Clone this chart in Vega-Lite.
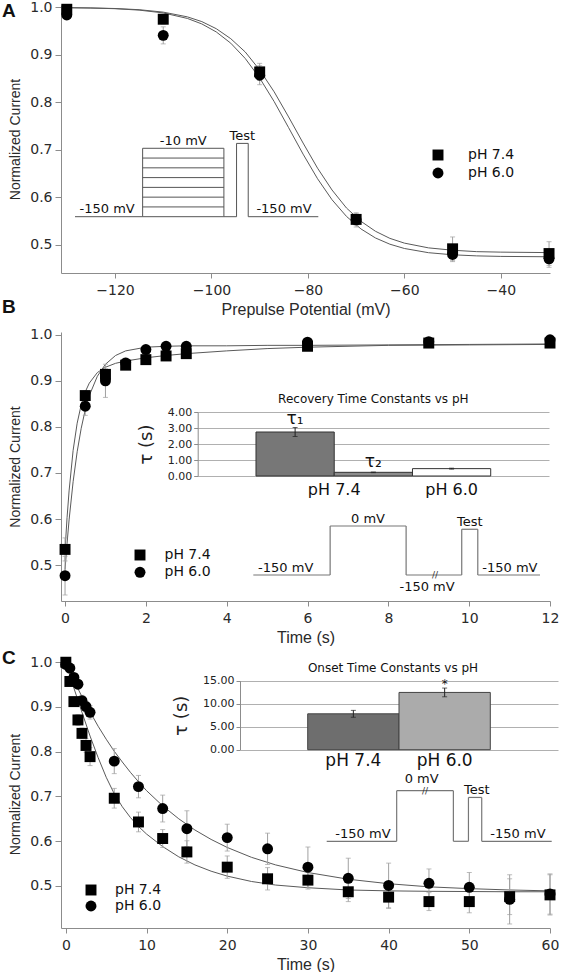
{
  "$schema": "https://vega.github.io/schema/vega-lite/v6.json",
  "background": "white",
  "padding": {"left": 2, "top": 0, "right": 0, "bottom": 0},
  "bounds": "flush",
  "spacing": 59,
  "config": {
    "view": {"stroke": null},
    "font": "DejaVu Sans",
    "axis": {"domainColor": "#8c8c8c", "tickColor": "#8c8c8c", "labelFont": "DejaVu Sans", "labelFontSize": 14, "labelColor": "#2a2a2a", "titleFont": "Liberation Sans", "titleFontWeight": "normal", "titleColor": "#2a2a2a", "grid": false, "labelFlush": false, "labelOverlap": false},
    "axisX": {"tickSize": 5, "labelPadding": 5, "titleFontSize": 16, "titlePadding": 4},
    "axisY": {"tickSize": 6, "labelPadding": 3, "titleFontSize": 14, "titlePadding": 7}
  },
  "resolve": {"scale": {"shape": "independent", "color": "independent"}, "legend": {"shape": "independent", "color": "independent"}},
  "datasets": {
    "a_pts": [
      {"V": -130, "I": 0.984, "err": 0.008, "pH": "pH 6.0"},
      {"V": -110, "I": 0.941, "err": 0.018, "pH": "pH 6.0"},
      {"V": -90, "I": 0.857, "err": 0.02, "pH": "pH 6.0"},
      {"V": -70, "I": 0.552, "err": 0.015, "pH": "pH 6.0"},
      {"V": -50, "I": 0.479, "err": 0.015, "pH": "pH 6.0"},
      {"V": -30, "I": 0.47, "err": 0.018, "pH": "pH 6.0"},
      {"V": -130, "I": 0.996, "err": 0.008, "pH": "pH 7.4"},
      {"V": -110, "I": 0.975, "err": 0.01, "pH": "pH 7.4"},
      {"V": -90, "I": 0.864, "err": 0.018, "pH": "pH 7.4"},
      {"V": -70, "I": 0.553, "err": 0.012, "pH": "pH 7.4"},
      {"V": -50, "I": 0.491, "err": 0.025, "pH": "pH 7.4"},
      {"V": -30, "I": 0.481, "err": 0.025, "pH": "pH 7.4"}
    ],
    "a_fit": [
      {"V": -131, "I": 0.9995, "pH": "pH 7.4"}, {"V": -125, "I": 0.9988, "pH": "pH 7.4"}, {"V": -120, "I": 0.9976, "pH": "pH 7.4"},
      {"V": -115, "I": 0.9951, "pH": "pH 7.4"}, {"V": -110, "I": 0.990, "pH": "pH 7.4"}, {"V": -105, "I": 0.980, "pH": "pH 7.4"},
      {"V": -102, "I": 0.970, "pH": "pH 7.4"}, {"V": -99, "I": 0.955, "pH": "pH 7.4"}, {"V": -96, "I": 0.934, "pH": "pH 7.4"},
      {"V": -93, "I": 0.906, "pH": "pH 7.4"}, {"V": -90, "I": 0.868, "pH": "pH 7.4"}, {"V": -87, "I": 0.822, "pH": "pH 7.4"},
      {"V": -84, "I": 0.769, "pH": "pH 7.4"}, {"V": -81, "I": 0.714, "pH": "pH 7.4"}, {"V": -78, "I": 0.661, "pH": "pH 7.4"},
      {"V": -75, "I": 0.615, "pH": "pH 7.4"}, {"V": -72, "I": 0.577, "pH": "pH 7.4"}, {"V": -69, "I": 0.549, "pH": "pH 7.4"},
      {"V": -66, "I": 0.528, "pH": "pH 7.4"}, {"V": -63, "I": 0.513, "pH": "pH 7.4"}, {"V": -60, "I": 0.503, "pH": "pH 7.4"},
      {"V": -55, "I": 0.493, "pH": "pH 7.4"}, {"V": -50, "I": 0.488, "pH": "pH 7.4"}, {"V": -45, "I": 0.485, "pH": "pH 7.4"},
      {"V": -40, "I": 0.484, "pH": "pH 7.4"}, {"V": -30, "I": 0.483, "pH": "pH 7.4"},
      {"V": -131, "I": 0.9994, "pH": "pH 6.0"}, {"V": -125, "I": 0.9986, "pH": "pH 6.0"}, {"V": -120, "I": 0.9972, "pH": "pH 6.0"},
      {"V": -115, "I": 0.9942, "pH": "pH 6.0"}, {"V": -110, "I": 0.9883, "pH": "pH 6.0"}, {"V": -105, "I": 0.9767, "pH": "pH 6.0"},
      {"V": -102, "I": 0.9651, "pH": "pH 6.0"}, {"V": -99, "I": 0.9482, "pH": "pH 6.0"}, {"V": -96, "I": 0.9245, "pH": "pH 6.0"},
      {"V": -93, "I": 0.8923, "pH": "pH 6.0"}, {"V": -90, "I": 0.851, "pH": "pH 6.0"}, {"V": -87, "I": 0.8014, "pH": "pH 6.0"},
      {"V": -84, "I": 0.7464, "pH": "pH 6.0"}, {"V": -81, "I": 0.6906, "pH": "pH 6.0"}, {"V": -78, "I": 0.6387, "pH": "pH 6.0"},
      {"V": -75, "I": 0.5944, "pH": "pH 6.0"}, {"V": -72, "I": 0.5593, "pH": "pH 6.0"}, {"V": -69, "I": 0.5329, "pH": "pH 6.0"},
      {"V": -66, "I": 0.5139, "pH": "pH 6.0"}, {"V": -63, "I": 0.5007, "pH": "pH 6.0"}, {"V": -60, "I": 0.4917, "pH": "pH 6.0"},
      {"V": -55, "I": 0.4828, "pH": "pH 6.0"}, {"V": -50, "I": 0.4784, "pH": "pH 6.0"}, {"V": -45, "I": 0.4761, "pH": "pH 6.0"},
      {"V": -40, "I": 0.475, "pH": "pH 6.0"}, {"V": -30, "I": 0.4742, "pH": "pH 6.0"}
    ],
    "a_seg": [
      {"t0": 0, "t1": 27.8, "v0": -150, "v1": -150},
      {"t0": 27.8, "t1": 27.8, "v0": -150, "v1": -10},
      {"t0": 27.8, "t1": 61.2, "v0": -10, "v1": -10},
      {"t0": 27.8, "t1": 61.2, "v0": -30, "v1": -30},
      {"t0": 27.8, "t1": 61.2, "v0": -50, "v1": -50},
      {"t0": 27.8, "t1": 61.2, "v0": -70, "v1": -70},
      {"t0": 27.8, "t1": 61.2, "v0": -90, "v1": -90},
      {"t0": 27.8, "t1": 61.2, "v0": -110, "v1": -110},
      {"t0": 27.8, "t1": 61.2, "v0": -130, "v1": -130},
      {"t0": 27.8, "t1": 61.2, "v0": -150, "v1": -150},
      {"t0": 61.2, "t1": 61.2, "v0": -10, "v1": -150},
      {"t0": 61.2, "t1": 66.4, "v0": -150, "v1": -150},
      {"t0": 66.4, "t1": 66.4, "v0": -150, "v1": 0},
      {"t0": 66.4, "t1": 71.2, "v0": 0, "v1": 0},
      {"t0": 71.2, "t1": 71.2, "v0": 0, "v1": -150},
      {"t0": 71.2, "t1": 100, "v0": -150, "v1": -150}
    ],
    "a_txt": [
      {"t": 13.2, "v": -150, "label": "-150 mV"},
      {"t": 44.5, "v": -10, "label": "-10 mV"},
      {"t": 68.8, "v": 0, "label": "Test"},
      {"t": 85.9, "v": -150, "label": "-150 mV"}
    ],
    "b_pts": [
      {"t": 0, "I": 0.477, "err": 0.042, "pH": "pH 6.0"},
      {"t": 0.5, "I": 0.845, "err": 0.02, "pH": "pH 6.0"},
      {"t": 1, "I": 0.9, "err": 0.036, "pH": "pH 6.0"},
      {"t": 1.5, "I": 0.939, "err": 0.01, "pH": "pH 6.0"},
      {"t": 2, "I": 0.968, "err": 0.006, "pH": "pH 6.0"},
      {"t": 2.5, "I": 0.975, "err": 0.005, "pH": "pH 6.0"},
      {"t": 3, "I": 0.975, "err": 0.005, "pH": "pH 6.0"},
      {"t": 6, "I": 0.984, "err": 0.005, "pH": "pH 6.0"},
      {"t": 9, "I": 0.985, "err": 0.005, "pH": "pH 6.0"},
      {"t": 12, "I": 0.989, "err": 0.005, "pH": "pH 6.0"},
      {"t": 0, "I": 0.534, "err": 0.025, "pH": "pH 7.4"},
      {"t": 0.5, "I": 0.868, "err": 0.01, "pH": "pH 7.4"},
      {"t": 1, "I": 0.914, "err": 0.012, "pH": "pH 7.4"},
      {"t": 1.5, "I": 0.934, "err": 0.008, "pH": "pH 7.4"},
      {"t": 2, "I": 0.946, "err": 0.006, "pH": "pH 7.4"},
      {"t": 2.5, "I": 0.954, "err": 0.005, "pH": "pH 7.4"},
      {"t": 3, "I": 0.959, "err": 0.005, "pH": "pH 7.4"},
      {"t": 6, "I": 0.975, "err": 0.006, "pH": "pH 7.4"},
      {"t": 9, "I": 0.982, "err": 0.005, "pH": "pH 7.4"},
      {"t": 12, "I": 0.982, "err": 0.005, "pH": "pH 7.4"}
    ],
    "b_fit": [
      {"t": 0, "I": 0.532, "pH": "pH 7.4"}, {"t": 0.05, "I": 0.603, "pH": "pH 7.4"}, {"t": 0.1, "I": 0.661, "pH": "pH 7.4"},
      {"t": 0.2, "I": 0.749, "pH": "pH 7.4"}, {"t": 0.3, "I": 0.808, "pH": "pH 7.4"}, {"t": 0.4, "I": 0.848, "pH": "pH 7.4"},
      {"t": 0.5, "I": 0.876, "pH": "pH 7.4"}, {"t": 0.6, "I": 0.895, "pH": "pH 7.4"}, {"t": 0.8, "I": 0.918, "pH": "pH 7.4"},
      {"t": 1.0, "I": 0.9295, "pH": "pH 7.4"}, {"t": 1.25, "I": 0.938, "pH": "pH 7.4"}, {"t": 1.5, "I": 0.943, "pH": "pH 7.4"},
      {"t": 2, "I": 0.95, "pH": "pH 7.4"}, {"t": 2.5, "I": 0.955, "pH": "pH 7.4"}, {"t": 3, "I": 0.959, "pH": "pH 7.4"},
      {"t": 4, "I": 0.965, "pH": "pH 7.4"}, {"t": 5, "I": 0.97, "pH": "pH 7.4"}, {"t": 6, "I": 0.973, "pH": "pH 7.4"},
      {"t": 8, "I": 0.977, "pH": "pH 7.4"}, {"t": 10, "I": 0.978, "pH": "pH 7.4"}, {"t": 12, "I": 0.979, "pH": "pH 7.4"},
      {"t": 0, "I": 0.49, "pH": "pH 6.0"}, {"t": 0.05, "I": 0.547, "pH": "pH 6.0"}, {"t": 0.1, "I": 0.598, "pH": "pH 6.0"},
      {"t": 0.2, "I": 0.681, "pH": "pH 6.0"}, {"t": 0.3, "I": 0.746, "pH": "pH 6.0"}, {"t": 0.4, "I": 0.797, "pH": "pH 6.0"},
      {"t": 0.5, "I": 0.837, "pH": "pH 6.0"}, {"t": 0.6, "I": 0.868, "pH": "pH 6.0"}, {"t": 0.8, "I": 0.91, "pH": "pH 6.0"},
      {"t": 1.0, "I": 0.936, "pH": "pH 6.0"}, {"t": 1.25, "I": 0.955, "pH": "pH 6.0"}, {"t": 1.5, "I": 0.965, "pH": "pH 6.0"},
      {"t": 2, "I": 0.973, "pH": "pH 6.0"}, {"t": 2.5, "I": 0.975, "pH": "pH 6.0"}, {"t": 3, "I": 0.976, "pH": "pH 6.0"},
      {"t": 4, "I": 0.976, "pH": "pH 6.0"}, {"t": 5, "I": 0.977, "pH": "pH 6.0"}, {"t": 6, "I": 0.977, "pH": "pH 6.0"},
      {"t": 8, "I": 0.978, "pH": "pH 6.0"}, {"t": 10, "I": 0.979, "pH": "pH 6.0"}, {"t": 12, "I": 0.98, "pH": "pH 6.0"}
    ],
    "b_seg": [
      {"t0": 0, "t1": 26.8, "v0": -150, "v1": -150},
      {"t0": 26.8, "t1": 26.8, "v0": -150, "v1": 0},
      {"t0": 26.8, "t1": 53.3, "v0": 0, "v1": 0},
      {"t0": 53.3, "t1": 53.3, "v0": 0, "v1": -150},
      {"t0": 53.3, "t1": 72.7, "v0": -150, "v1": -150},
      {"t0": 72.7, "t1": 72.7, "v0": -150, "v1": -10},
      {"t0": 72.7, "t1": 78.3, "v0": -10, "v1": -10},
      {"t0": 78.3, "t1": 78.3, "v0": -10, "v1": -150},
      {"t0": 78.3, "t1": 100, "v0": -150, "v1": -150}
    ],
    "b_txt": [
      {"t": 11.3, "v": -150, "label": "-150 mV"},
      {"t": 40, "v": 0, "label": "0 mV"},
      {"t": 75.5, "v": -10, "label": "Test"},
      {"t": 89.5, "v": -150, "label": "-150 mV"}
    ],
    "b_bars": [
      {"bar": "t1_74", "tau": 2.75, "err": 0.28},
      {"bar": "t2_74", "tau": 0.23, "err": 0.02},
      {"bar": "t_60", "tau": 0.46, "err": 0.03}
    ],
    "c_pts": [
      {"t": 0, "I": 0.995, "err": 0.005, "pH": "pH 6.0"},
      {"t": 0.5, "I": 0.987, "err": 0.008, "pH": "pH 6.0"},
      {"t": 1, "I": 0.966, "err": 0.008, "pH": "pH 6.0"},
      {"t": 1.5, "I": 0.951, "err": 0.01, "pH": "pH 6.0"},
      {"t": 2, "I": 0.914, "err": 0.012, "pH": "pH 6.0"},
      {"t": 2.5, "I": 0.901, "err": 0.012, "pH": "pH 6.0"},
      {"t": 3, "I": 0.888, "err": 0.015, "pH": "pH 6.0"},
      {"t": 6, "I": 0.779, "err": 0.028, "pH": "pH 6.0"},
      {"t": 9, "I": 0.722, "err": 0.025, "pH": "pH 6.0"},
      {"t": 12, "I": 0.673, "err": 0.03, "pH": "pH 6.0"},
      {"t": 15, "I": 0.628, "err": 0.04, "pH": "pH 6.0"},
      {"t": 20, "I": 0.608, "err": 0.03, "pH": "pH 6.0"},
      {"t": 25, "I": 0.583, "err": 0.035, "pH": "pH 6.0"},
      {"t": 30, "I": 0.542, "err": 0.045, "pH": "pH 6.0"},
      {"t": 35, "I": 0.517, "err": 0.045, "pH": "pH 6.0"},
      {"t": 40, "I": 0.501, "err": 0.05, "pH": "pH 6.0"},
      {"t": 45, "I": 0.506, "err": 0.032, "pH": "pH 6.0"},
      {"t": 50, "I": 0.497, "err": 0.033, "pH": "pH 6.0"},
      {"t": 55, "I": 0.47, "err": 0.055, "pH": "pH 6.0"},
      {"t": 60, "I": 0.482, "err": 0.045, "pH": "pH 6.0"},
      {"t": 0, "I": 1.0, "err": 0.005, "pH": "pH 7.4"},
      {"t": 0.5, "I": 0.957, "err": 0.008, "pH": "pH 7.4"},
      {"t": 1, "I": 0.912, "err": 0.01, "pH": "pH 7.4"},
      {"t": 1.5, "I": 0.871, "err": 0.012, "pH": "pH 7.4"},
      {"t": 2, "I": 0.841, "err": 0.012, "pH": "pH 7.4"},
      {"t": 2.5, "I": 0.814, "err": 0.015, "pH": "pH 7.4"},
      {"t": 3, "I": 0.789, "err": 0.02, "pH": "pH 7.4"},
      {"t": 6, "I": 0.696, "err": 0.022, "pH": "pH 7.4"},
      {"t": 9, "I": 0.643, "err": 0.022, "pH": "pH 7.4"},
      {"t": 12, "I": 0.606, "err": 0.02, "pH": "pH 7.4"},
      {"t": 15, "I": 0.576, "err": 0.025, "pH": "pH 7.4"},
      {"t": 20, "I": 0.542, "err": 0.025, "pH": "pH 7.4"},
      {"t": 25, "I": 0.516, "err": 0.025, "pH": "pH 7.4"},
      {"t": 30, "I": 0.513, "err": 0.02, "pH": "pH 7.4"},
      {"t": 35, "I": 0.487, "err": 0.022, "pH": "pH 7.4"},
      {"t": 40, "I": 0.475, "err": 0.025, "pH": "pH 7.4"},
      {"t": 45, "I": 0.465, "err": 0.02, "pH": "pH 7.4"},
      {"t": 50, "I": 0.465, "err": 0.025, "pH": "pH 7.4"},
      {"t": 55, "I": 0.476, "err": 0.04, "pH": "pH 7.4"},
      {"t": 60, "I": 0.48, "err": 0.045, "pH": "pH 7.4"}
    ],
    "c_fit": [
      {"t": 0, "I": 1.0, "pH": "pH 7.4"}, {"t": 0.5, "I": 0.97, "pH": "pH 7.4"}, {"t": 1, "I": 0.942, "pH": "pH 7.4"},
      {"t": 1.5, "I": 0.915, "pH": "pH 7.4"}, {"t": 2, "I": 0.888, "pH": "pH 7.4"}, {"t": 3, "I": 0.835, "pH": "pH 7.4"},
      {"t": 4, "I": 0.787, "pH": "pH 7.4"}, {"t": 5, "I": 0.743, "pH": "pH 7.4"}, {"t": 6, "I": 0.706, "pH": "pH 7.4"},
      {"t": 7, "I": 0.677, "pH": "pH 7.4"}, {"t": 8, "I": 0.653, "pH": "pH 7.4"}, {"t": 9, "I": 0.633, "pH": "pH 7.4"},
      {"t": 10, "I": 0.616, "pH": "pH 7.4"}, {"t": 12, "I": 0.588, "pH": "pH 7.4"}, {"t": 14, "I": 0.565, "pH": "pH 7.4"},
      {"t": 16, "I": 0.547, "pH": "pH 7.4"}, {"t": 18, "I": 0.533, "pH": "pH 7.4"}, {"t": 20, "I": 0.522, "pH": "pH 7.4"},
      {"t": 23, "I": 0.51, "pH": "pH 7.4"}, {"t": 26, "I": 0.502, "pH": "pH 7.4"}, {"t": 30, "I": 0.496, "pH": "pH 7.4"},
      {"t": 35, "I": 0.491, "pH": "pH 7.4"}, {"t": 40, "I": 0.489, "pH": "pH 7.4"}, {"t": 45, "I": 0.488, "pH": "pH 7.4"},
      {"t": 50, "I": 0.4875, "pH": "pH 7.4"}, {"t": 55, "I": 0.487, "pH": "pH 7.4"}, {"t": 60, "I": 0.487, "pH": "pH 7.4"},
      {"t": 0, "I": 1.0, "pH": "pH 6.0"}, {"t": 0.5, "I": 0.979, "pH": "pH 6.0"}, {"t": 1, "I": 0.96, "pH": "pH 6.0"},
      {"t": 1.5, "I": 0.941, "pH": "pH 6.0"}, {"t": 2, "I": 0.923, "pH": "pH 6.0"}, {"t": 3, "I": 0.889, "pH": "pH 6.0"},
      {"t": 4, "I": 0.857, "pH": "pH 6.0"}, {"t": 5, "I": 0.828, "pH": "pH 6.0"}, {"t": 6, "I": 0.801, "pH": "pH 6.0"},
      {"t": 7, "I": 0.777, "pH": "pH 6.0"}, {"t": 8, "I": 0.754, "pH": "pH 6.0"}, {"t": 9, "I": 0.733, "pH": "pH 6.0"},
      {"t": 10, "I": 0.713, "pH": "pH 6.0"}, {"t": 12, "I": 0.679, "pH": "pH 6.0"}, {"t": 14, "I": 0.65, "pH": "pH 6.0"},
      {"t": 16, "I": 0.625, "pH": "pH 6.0"}, {"t": 18, "I": 0.604, "pH": "pH 6.0"}, {"t": 20, "I": 0.586, "pH": "pH 6.0"},
      {"t": 23, "I": 0.564, "pH": "pH 6.0"}, {"t": 26, "I": 0.547, "pH": "pH 6.0"}, {"t": 30, "I": 0.53, "pH": "pH 6.0"},
      {"t": 35, "I": 0.515, "pH": "pH 6.0"}, {"t": 40, "I": 0.505, "pH": "pH 6.0"}, {"t": 45, "I": 0.498, "pH": "pH 6.0"},
      {"t": 50, "I": 0.494, "pH": "pH 6.0"}, {"t": 55, "I": 0.491, "pH": "pH 6.0"}, {"t": 60, "I": 0.489, "pH": "pH 6.0"}
    ],
    "c_seg": [
      {"t0": 0, "t1": 31.1, "v0": -150, "v1": -150},
      {"t0": 31.1, "t1": 31.1, "v0": -150, "v1": 0},
      {"t0": 31.1, "t1": 56.3, "v0": 0, "v1": 0},
      {"t0": 56.3, "t1": 56.3, "v0": 0, "v1": -150},
      {"t0": 56.3, "t1": 63, "v0": -150, "v1": -150},
      {"t0": 63, "t1": 63, "v0": -150, "v1": -20},
      {"t0": 63, "t1": 68.9, "v0": -20, "v1": -20},
      {"t0": 68.9, "t1": 68.9, "v0": -20, "v1": -150},
      {"t0": 68.9, "t1": 100, "v0": -150, "v1": -150}
    ],
    "c_txt": [
      {"t": 16.1, "v": -150, "label": "-150 mV"},
      {"t": 66.7, "v": -20, "label": "Test"},
      {"t": 85, "v": -150, "label": "-150 mV"}
    ],
    "c_bars": [
      {"bar": "onset_74", "tau": 7.8, "err": 0.75},
      {"bar": "onset_60", "tau": 12.45, "err": 0.95}
    ]
  },
  "vconcat": [
    {
      "width": 489, "height": 268,
      "title": {"text": "A", "anchor": "start", "frame": "group", "dx": -59, "offset": -30, "baseline": "middle", "fontSize": 19, "font": "Liberation Sans", "fontWeight": "bold", "color": "#111"},
      "resolve": {"scale": {"x": "independent", "y": "independent"}},
      "layer": [
        {
          "layer": [
            {"data": {"name": "a_fit"}, "mark": {"type": "line", "color": "#5a5a5a", "strokeWidth": 1},
             "encoding": {
               "x": {"field": "V", "type": "quantitative", "title": "Prepulse Potential (mV)", "scale": {"domain": [-131.2, -29.8], "nice": false, "zero": false}, "axis": {"values": [-120, -100, -80, -60, -40]}},
               "y": {"field": "I", "type": "quantitative", "title": "Normalized Current", "scale": {"domain": [0.44, 1.005], "nice": false, "zero": false}, "axis": {"values": [0.5, 0.6, 0.7, 0.8, 0.9, 1.0], "format": ".1f"}},
               "detail": {"field": "pH"}}},
            {"data": {"name": "a_pts"}, "mark": {"type": "errorbar", "color": "#a0a0a0", "ticks": {"size": 5, "color": "#a0a0a0"}},
             "encoding": {
               "x": {"field": "V", "type": "quantitative", "title": "Prepulse Potential (mV)"},
               "y": {"field": "I", "type": "quantitative", "title": "Normalized Current"},
               "yError": {"field": "err"}}},
            {"data": {"name": "a_pts"}, "mark": {"type": "point", "filled": true, "color": "#000", "size": 120, "opacity": 1},
             "encoding": {
               "x": {"field": "V", "type": "quantitative", "title": "Prepulse Potential (mV)"},
               "y": {"field": "I", "type": "quantitative", "title": "Normalized Current"},
               "shape": {"field": "pH", "type": "nominal", "scale": {"domain": ["pH 7.4", "pH 6.0"], "range": ["square", "circle"]},
                 "legend": {"orient": "none", "legendX": 370, "legendY": 143, "title": null, "padding": 0, "labelFont": "DejaVu Sans", "labelFontSize": 14, "labelColor": "#111", "labelOffset": 23, "rowPadding": 4, "symbolSize": 120, "symbolFillColor": "#000", "symbolOpacity": 1, "symbolStrokeWidth": 0}}}}
          ]
        },
        {
          "layer": [
            {"data": {"name": "a_seg"}, "mark": {"type": "rule", "color": "#555", "strokeWidth": 1},
             "encoding": {
               "x": {"field": "t0", "type": "quantitative", "scale": {"domain": [0, 100], "range": [14, 257.3], "nice": false, "zero": false}, "axis": null},
               "x2": {"field": "t1"},
               "y": {"field": "v0", "type": "quantitative", "scale": {"domain": [-150, 0], "range": [211.7, 138.4], "nice": false, "zero": false}, "axis": null},
               "y2": {"field": "v1"}}},
            {"data": {"name": "a_txt"}, "mark": {"type": "text", "baseline": "alphabetic", "dy": -3.5, "fontSize": 13, "font": "DejaVu Sans", "color": "#111"},
             "encoding": {
               "x": {"field": "t", "type": "quantitative", "axis": null},
               "y": {"field": "v", "type": "quantitative", "axis": null},
               "text": {"field": "label"}}}
          ]
        }
      ]
    },
    {
      "width": 489, "height": 269,
      "title": {"text": "B", "anchor": "start", "frame": "group", "dx": -59, "offset": 1.5, "baseline": "middle", "fontSize": 19, "font": "Liberation Sans", "fontWeight": "bold", "color": "#111"},
      "resolve": {"scale": {"x": "independent", "y": "independent"}},
      "layer": [
        {
          "layer": [
            {"data": {"name": "b_fit"}, "mark": {"type": "line", "color": "#5a5a5a", "strokeWidth": 1},
             "encoding": {
               "x": {"field": "t", "type": "quantitative", "title": "Time (s)", "scale": {"domain": [-0.1, 12], "nice": false, "zero": false}, "axis": {"values": [0, 2, 4, 6, 8, 10, 12]}},
               "y": {"field": "I", "type": "quantitative", "title": "Normalized Current", "scale": {"domain": [0.422, 1.006], "nice": false, "zero": false}, "axis": {"values": [0.5, 0.6, 0.7, 0.8, 0.9, 1.0], "format": ".1f"}},
               "detail": {"field": "pH"}}},
            {"data": {"name": "b_pts"}, "mark": {"type": "errorbar", "color": "#a0a0a0", "ticks": {"size": 5, "color": "#a0a0a0"}},
             "encoding": {
               "x": {"field": "t", "type": "quantitative", "title": "Time (s)"},
               "y": {"field": "I", "type": "quantitative", "title": "Normalized Current"},
               "yError": {"field": "err"}}},
            {"data": {"name": "b_pts"}, "mark": {"type": "point", "filled": true, "color": "#000", "size": 120, "opacity": 1},
             "encoding": {
               "x": {"field": "t", "type": "quantitative", "title": "Time (s)"},
               "y": {"field": "I", "type": "quantitative", "title": "Normalized Current"},
               "shape": {"field": "pH", "type": "nominal", "scale": {"domain": ["pH 7.4", "pH 6.0"], "range": ["square", "circle"]},
                 "legend": {"orient": "none", "legendX": 72, "legendY": 216, "title": null, "padding": 0, "labelFont": "DejaVu Sans", "labelFontSize": 14, "labelColor": "#111", "labelOffset": 17.5, "rowPadding": 3.3, "symbolSize": 120, "symbolFillColor": "#000", "symbolOpacity": 1, "symbolStrokeWidth": 0}}}}
          ]
        },
        {
          "layer": [
            {"data": {"name": "b_seg"}, "mark": {"type": "rule", "color": "#777", "strokeWidth": 1.2},
             "encoding": {
               "x": {"field": "t0", "type": "quantitative", "scale": {"domain": [0, 100], "range": [192.3, 479], "nice": false, "zero": false}, "axis": null},
               "x2": {"field": "t1"},
               "y": {"field": "v0", "type": "quantitative", "scale": {"domain": [-150, 0], "range": [243, 194], "nice": false, "zero": false}, "axis": null},
               "y2": {"field": "v1"}}},
            {"data": {"name": "b_txt"}, "mark": {"type": "text", "baseline": "alphabetic", "dy": -3, "fontSize": 13, "font": "DejaVu Sans", "color": "#111"},
             "encoding": {
               "x": {"field": "t", "type": "quantitative", "axis": null},
               "y": {"field": "v", "type": "quantitative", "axis": null},
               "text": {"field": "label"}}},
            {"data": {"values": [{"t": 60.6, "v": -150, "label": "-150 mV"}]}, "mark": {"type": "text", "baseline": "top", "dy": 6, "fontSize": 13, "font": "DejaVu Sans", "color": "#111"},
             "encoding": {
               "x": {"field": "t", "type": "quantitative", "axis": null},
               "y": {"field": "v", "type": "quantitative", "axis": null},
               "text": {"field": "label"}}},
            {"data": {"values": [{"t": 63.4, "v": -150, "label": "//"}]}, "mark": {"type": "text", "baseline": "middle", "dy": 0, "fontSize": 9, "font": "DejaVu Sans", "color": "#333"},
             "encoding": {
               "x": {"field": "t", "type": "quantitative", "axis": null},
               "y": {"field": "v", "type": "quantitative", "axis": null},
               "text": {"field": "label"}}}
          ]
        },
        {
          "layer": [
            {"data": {"name": "b_bars"}, "mark": {"type": "bar", "stroke": "#333", "strokeWidth": 1},
             "encoding": {
               "x": {"field": "bar", "type": "nominal", "scale": {"domain": ["t1_74", "t2_74", "t_60"], "range": [136.7, 488], "paddingInner": 0, "paddingOuter": 0.745}, "axis": null},
               "y": {"field": "tau", "type": "quantitative", "title": "τ (s)", "scale": {"domain": [0, 4], "range": [144, 80], "nice": false}, "axis": {"orient": "left", "offset": -136.7, "values": [0, 1, 2, 3, 4], "format": ".2f", "grid": true, "gridColor": "#b0b0b0", "gridWidth": 1, "tickSize": 4, "labelPadding": 2, "labelFontSize": 11, "labelColor": "#222", "titleFont": "DejaVu Sans", "titleFontSize": 18, "titlePadding": 12, "titleColor": "#222"}},
               "color": {"field": "bar", "type": "nominal", "scale": {"domain": ["t1_74", "t2_74", "t_60"], "range": ["#777777", "#8c8c8c", "#ffffff"]}, "legend": null}}},
            {"data": {"name": "b_bars"}, "mark": {"type": "errorbar", "color": "#222", "ticks": {"size": 5, "color": "#222"}},
             "encoding": {
               "x": {"field": "bar", "type": "nominal", "axis": null},
               "y": {"field": "tau", "type": "quantitative", "title": "τ (s)"},
               "yError": {"field": "err"}}},
            {"data": {"values": [{"bar": "t2_74", "pos": 4.81, "label": "Recovery Time Constants vs pH"}]}, "mark": {"type": "text", "baseline": "middle", "fontSize": 12, "font": "DejaVu Sans", "color": "#111"},
             "encoding": {"x": {"field": "bar", "type": "nominal", "axis": null}, "y": {"field": "pos", "type": "quantitative", "title": "τ (s)"}, "text": {"field": "label"}}},
            {"data": {"values": [{"bar": "t1_74", "pos": 3.55, "label": "τ₁"}, {"bar": "t2_74", "pos": 0.85, "label": "τ₂"}]}, "mark": {"type": "text", "baseline": "middle", "fontSize": 17, "font": "DejaVu Sans", "color": "#111"},
             "encoding": {"x": {"field": "bar", "type": "nominal", "axis": null}, "y": {"field": "pos", "type": "quantitative", "title": "τ (s)"}, "text": {"field": "label"}}},
            {"data": {"values": [{"bar": "t_60", "pos": -0.85, "label": "pH 6.0"}]}, "mark": {"type": "text", "baseline": "middle", "fontSize": 16, "font": "DejaVu Sans", "color": "#111"},
             "encoding": {"x": {"field": "bar", "type": "nominal", "axis": null}, "y": {"field": "pos", "type": "quantitative", "title": "τ (s)"}, "text": {"field": "label"}}},
            {"data": {"values": [{"bar": "t2_74", "pos": -0.85, "label": "pH 7.4"}]}, "mark": {"type": "text", "baseline": "middle", "fontSize": 16, "font": "DejaVu Sans", "color": "#111"},
             "encoding": {"x": {"field": "bar", "type": "nominal", "bandPosition": 0, "axis": null}, "y": {"field": "pos", "type": "quantitative", "title": "τ (s)"}, "text": {"field": "label"}}}
          ]
        }
      ]
    },
    {
      "width": 489, "height": 268,
      "title": {"text": "C", "anchor": "start", "frame": "group", "dx": -59, "offset": -22, "baseline": "middle", "fontSize": 19, "font": "Liberation Sans", "fontWeight": "bold", "color": "#111"},
      "resolve": {"scale": {"x": "independent", "y": "independent"}},
      "layer": [
        {
          "layer": [
            {"data": {"name": "c_fit"}, "mark": {"type": "line", "color": "#5a5a5a", "strokeWidth": 1},
             "encoding": {
               "x": {"field": "t", "type": "quantitative", "title": "Time (s)", "scale": {"domain": [-0.6, 60], "nice": false, "zero": false}, "axis": {"values": [0, 10, 20, 30, 40, 50, 60]}},
               "y": {"field": "I", "type": "quantitative", "title": "Normalized Current", "scale": {"domain": [0.406, 1.005], "nice": false, "zero": false}, "axis": {"values": [0.5, 0.6, 0.7, 0.8, 0.9, 1.0], "format": ".1f"}},
               "detail": {"field": "pH"}}},
            {"data": {"name": "c_pts"}, "mark": {"type": "errorbar", "color": "#a0a0a0", "ticks": {"size": 5, "color": "#a0a0a0"}},
             "encoding": {
               "x": {"field": "t", "type": "quantitative", "title": "Time (s)"},
               "y": {"field": "I", "type": "quantitative", "title": "Normalized Current"},
               "yError": {"field": "err"}}},
            {"data": {"name": "c_pts"}, "mark": {"type": "point", "filled": true, "color": "#000", "size": 120, "opacity": 1},
             "encoding": {
               "x": {"field": "t", "type": "quantitative", "title": "Time (s)"},
               "y": {"field": "I", "type": "quantitative", "title": "Normalized Current"},
               "shape": {"field": "pH", "type": "nominal", "scale": {"domain": ["pH 7.4", "pH 6.0"], "range": ["square", "circle"]},
                 "legend": {"orient": "none", "legendX": 23, "legendY": 223, "title": null, "padding": 0, "labelFont": "DejaVu Sans", "labelFontSize": 14, "labelColor": "#111", "labelOffset": 17, "rowPadding": 2, "symbolSize": 120, "symbolFillColor": "#000", "symbolOpacity": 1, "symbolStrokeWidth": 0}}}}
          ]
        },
        {
          "layer": [
            {"data": {"name": "c_seg"}, "mark": {"type": "rule", "color": "#777", "strokeWidth": 1.2},
             "encoding": {
               "x": {"field": "t0", "type": "quantitative", "scale": {"domain": [0, 100], "range": [265.7, 490.7], "nice": false, "zero": false}, "axis": null},
               "x2": {"field": "t1"},
               "y": {"field": "v0", "type": "quantitative", "scale": {"domain": [-150, 0], "range": [181.3, 130.7], "nice": false, "zero": false}, "axis": null},
               "y2": {"field": "v1"}}},
            {"data": {"name": "c_txt"}, "mark": {"type": "text", "baseline": "alphabetic", "dy": -3, "fontSize": 13, "font": "DejaVu Sans", "color": "#111"},
             "encoding": {
               "x": {"field": "t", "type": "quantitative", "axis": null},
               "y": {"field": "v", "type": "quantitative", "axis": null},
               "text": {"field": "label"}}},
            {"data": {"values": [{"t": 42.2, "v": 0, "label": "0 mV"}]}, "mark": {"type": "text", "baseline": "alphabetic", "dy": -8, "fontSize": 13, "font": "DejaVu Sans", "color": "#111"},
             "encoding": {
               "x": {"field": "t", "type": "quantitative", "axis": null},
               "y": {"field": "v", "type": "quantitative", "axis": null},
               "text": {"field": "label"}}},
            {"data": {"values": [{"t": 43.7, "v": 0, "label": "//"}]}, "mark": {"type": "text", "baseline": "middle", "fontSize": 9, "font": "DejaVu Sans", "color": "#333"},
             "encoding": {
               "x": {"field": "t", "type": "quantitative", "axis": null},
               "y": {"field": "v", "type": "quantitative", "axis": null},
               "text": {"field": "label"}}}
          ]
        },
        {
          "layer": [
            {"data": {"name": "c_bars"}, "mark": {"type": "bar", "stroke": "#444", "strokeWidth": 1},
             "encoding": {
               "x": {"field": "bar", "type": "nominal", "scale": {"domain": ["onset_74", "onset_60"], "range": [179, 497], "paddingInner": 0, "paddingOuter": 0.7415}, "axis": null},
               "y": {"field": "tau", "type": "quantitative", "title": "τ (s)", "scale": {"domain": [0, 15], "range": [89.7, 20.7], "nice": false}, "axis": {"orient": "left", "offset": -179, "values": [0, 5, 10, 15], "format": ".2f", "grid": true, "gridColor": "#b0b0b0", "gridWidth": 1, "tickSize": 4, "labelPadding": 2, "labelFontSize": 11, "labelColor": "#222", "titleFont": "DejaVu Sans", "titleFontSize": 18, "titlePadding": 12, "titleColor": "#222"}},
               "color": {"field": "bar", "type": "nominal", "scale": {"domain": ["onset_74", "onset_60"], "range": ["#6e6e6e", "#ababab"]}, "legend": null}}},
            {"data": {"name": "c_bars"}, "mark": {"type": "errorbar", "color": "#222", "ticks": {"size": 5, "color": "#222"}},
             "encoding": {
               "x": {"field": "bar", "type": "nominal", "axis": null},
               "y": {"field": "tau", "type": "quantitative", "title": "τ (s)"},
               "yError": {"field": "err"}}},
            {"data": {"values": [{"bar": "onset_60", "pos": 17.8, "label": "Onset Time Constants vs pH"}]}, "mark": {"type": "text", "baseline": "middle", "dx": -6, "fontSize": 12, "font": "DejaVu Sans", "color": "#111"},
             "encoding": {"x": {"field": "bar", "type": "nominal", "bandPosition": 0, "axis": null}, "y": {"field": "pos", "type": "quantitative", "title": "τ (s)"}, "text": {"field": "label"}}},
            {"data": {"values": [{"bar": "onset_60", "pos": 14.3, "label": "*"}]}, "mark": {"type": "text", "baseline": "middle", "fontSize": 12, "font": "DejaVu Sans", "color": "#111"},
             "encoding": {"x": {"field": "bar", "type": "nominal", "axis": null}, "y": {"field": "pos", "type": "quantitative", "title": "τ (s)"}, "text": {"field": "label"}}},
            {"data": {"values": [{"bar": "onset_74", "pos": -2.4, "label": "pH 7.4"}, {"bar": "onset_60", "pos": -2.4, "label": "pH 6.0"}]}, "mark": {"type": "text", "baseline": "middle", "fontSize": 17, "font": "DejaVu Sans", "color": "#111"},
             "encoding": {"x": {"field": "bar", "type": "nominal", "axis": null}, "y": {"field": "pos", "type": "quantitative", "title": "τ (s)"}, "text": {"field": "label"}}}
          ]
        }
      ]
    }
  ]
}
